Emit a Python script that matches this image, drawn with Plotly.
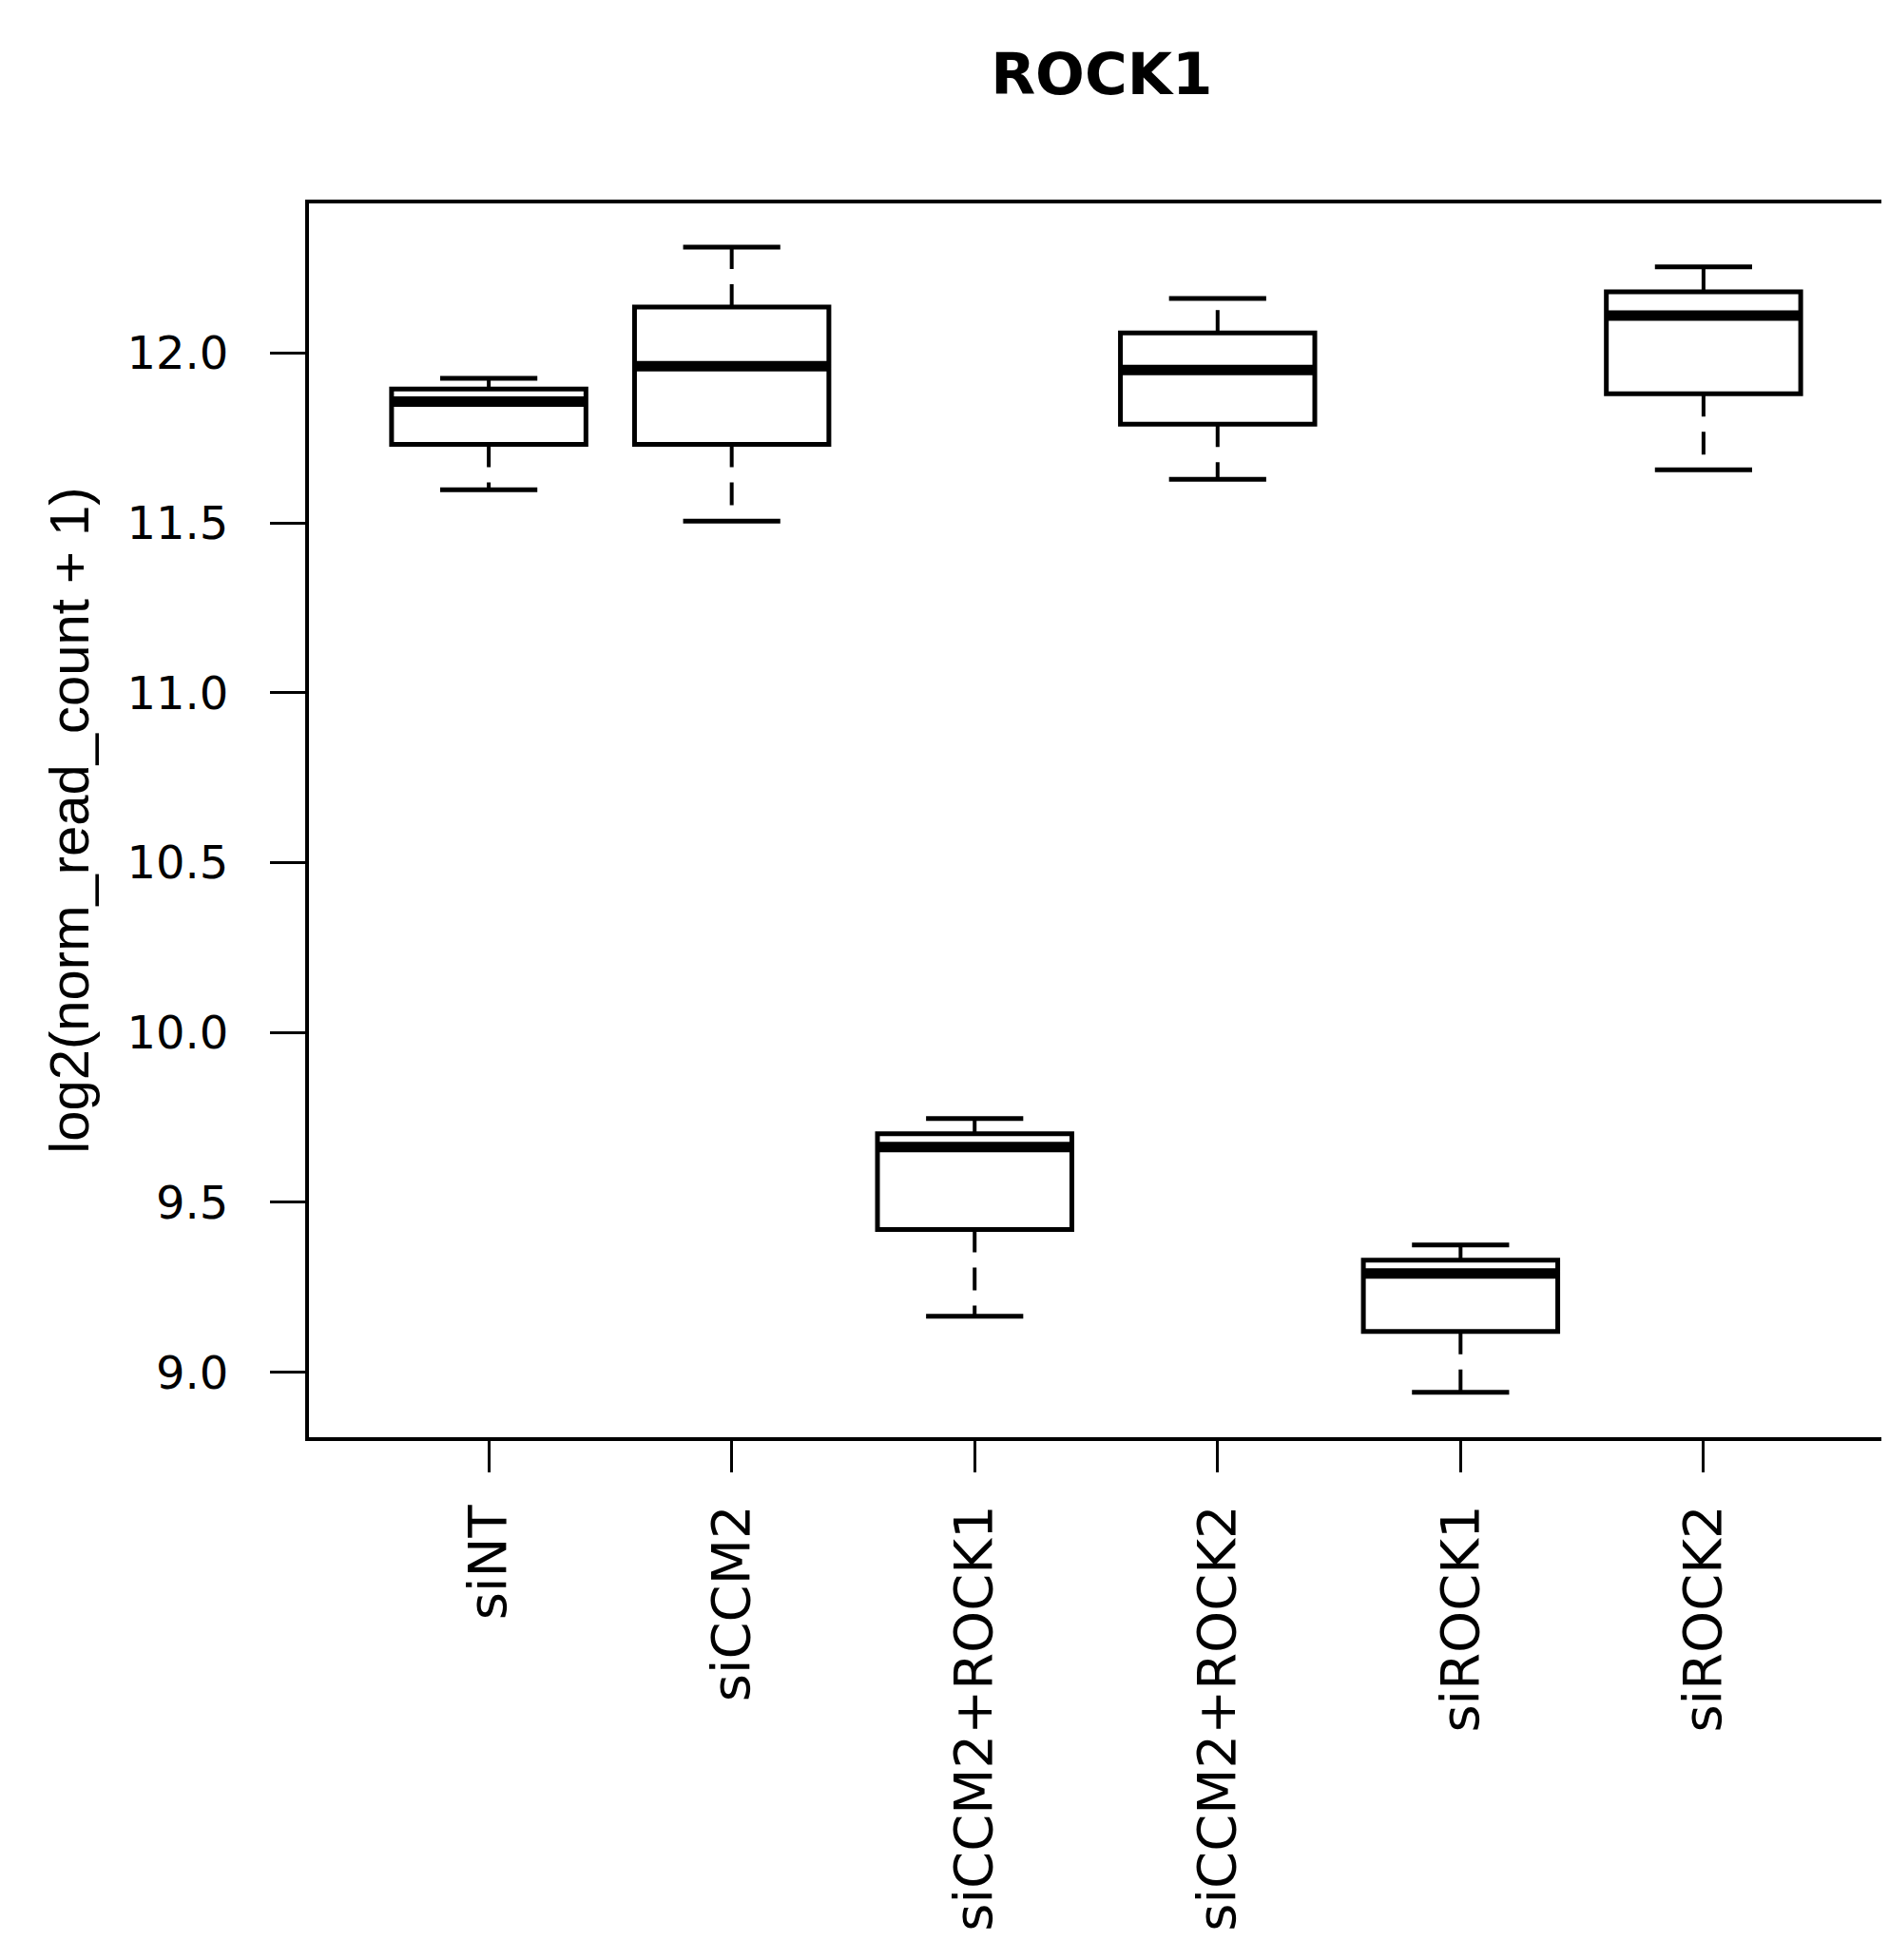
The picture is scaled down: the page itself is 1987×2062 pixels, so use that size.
import plotly.graph_objects as go

# boxplot summary (log2 normalised read counts)
groups = ["siNT", "siCCM2", "siCCM2+ROCK1", "siCCM2+ROCK2", "siROCK1", "siROCK2"]
lower_whisker = [11.597, 11.505, 9.165, 11.628, 8.941, 11.656]
q1 = [11.731, 11.731, 9.420, 11.790, 9.120, 11.880]
median = [11.857, 11.961, 9.663, 11.950, 9.291, 12.110]
q3 = [11.894, 12.135, 9.702, 12.059, 9.330, 12.180]
upper_whisker = [11.925, 12.311, 9.747, 12.160, 9.375, 12.253]
y_ticks = [9.0, 9.5, 10.0, 10.5, 11.0, 11.5, 12.0]

pos = list(range(1, len(groups) + 1))
box_w = 0.8      # R boxwex
cap_w = 0.4      # R staplewex * boxwex

fig = go.Figure()

# dashed whiskers
wx, wy = [], []
for p, lo, a, b, hi in zip(pos, lower_whisker, q1, q3, upper_whisker):
    wx += [p, p, None, p, p, None]
    wy += [b, hi, None, a, lo, None]
fig.add_trace(go.Scatter(
    x=wx, y=wy, mode="lines",
    line=dict(color="black", width=4, dash="24px,16px"),
    hoverinfo="skip", showlegend=False
))

# whisker caps
cx, cy = [], []
for p, lo, hi in zip(pos, lower_whisker, upper_whisker):
    cx += [p - cap_w / 2, p + cap_w / 2, None, p - cap_w / 2, p + cap_w / 2, None]
    cy += [hi, hi, None, lo, lo, None]
fig.add_trace(go.Scatter(
    x=cx, y=cy, mode="lines",
    line=dict(color="black", width=5),
    hoverinfo="skip", showlegend=False
))

# boxes
fig.add_trace(go.Box(
    x=pos, q1=q1, median=median, q3=q3,
    lowerfence=q1, upperfence=q3,
    width=box_w, whiskerwidth=0,
    fillcolor="white", line=dict(color="black", width=5),
    boxpoints=False, showlegend=False, hoverinfo="skip"
))

# thick median lines
mx, my = [], []
for p, m in zip(pos, median):
    mx += [p - box_w / 2, p + box_w / 2, None]
    my += [m, m, None]
fig.add_trace(go.Scatter(
    x=mx, y=my, mode="lines",
    line=dict(color="black", width=11),
    hoverinfo="skip", showlegend=False
))

# the page body adds an 8px margin, so the figure is 8px smaller
fig.update_layout(
    width=1979,
    height=2054,
    margin=dict(l=317, r=2, t=206, b=550),
    plot_bgcolor="white",
    paper_bgcolor="white",
    title=dict(
        text="<b>ROCK1</b>",
        x=0.5815, xanchor="center",
        y=0.966, yanchor="middle",
        font=dict(family="DejaVu Sans", size=61, color="black")
    ),
    xaxis=dict(
        range=[0.26, 6.74],
        tickmode="array", tickvals=pos, ticktext=groups,
        tickangle=-90,
        ticks="outside", ticklen=33, tickwidth=3, tickcolor="black",
        ticklabelstandoff=12,
        tickfont=dict(family="DejaVu Sans", size=56, color="black"),
        showline=True, linewidth=4, linecolor="black", mirror=True,
        showgrid=False, zeroline=False
    ),
    yaxis=dict(
        range=[8.809, 12.44],
        tickmode="array", tickvals=y_ticks,
        tickformat=".1f",
        ticks="outside", ticklen=37, tickwidth=3, tickcolor="black",
        ticklabelstandoff=34,
        tickfont=dict(family="DejaVu Sans", size=48, color="black"),
        title=dict(
            text="log2(norm_read_count + 1)",
            standoff=22,
            font=dict(family="Liberation Sans", size=58, color="black")
        ),
        showline=True, linewidth=4, linecolor="black", mirror=True,
        showgrid=False, zeroline=False
    ),
)

fig.write_html("out.html")
